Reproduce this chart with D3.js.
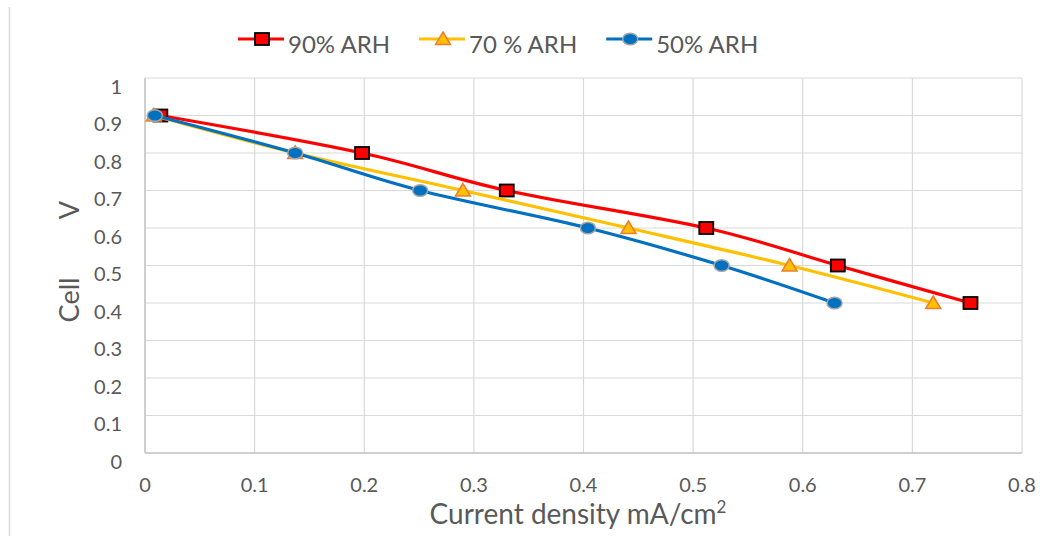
<!DOCTYPE html>
<html>
<head>
<meta charset="utf-8">
<script src="https://cdn.jsdelivr.net/npm/d3@7"></script>
<style>
  body { margin: 0; background: #fff; }
  svg { display: block; font-family: Lato, "Open Sans", sans-serif; }
</style>
</head>
<body>
<div id="chart"></div>
<script>
// series data (current density, cell voltage)
var seriesNames = ["90% ARH", "70 % ARH", "50% ARH"];
var voltage = [0.9, 0.8, 0.7, 0.6, 0.5, 0.4];
var current90 = [0.014, 0.198, 0.330, 0.512, 0.632, 0.753];
var current70 = [0.008, 0.137, 0.290, 0.441, 0.588, 0.719];
var current50 = [0.009, 0.137, 0.251, 0.404, 0.526, 0.629];
var xTicks = [0, 0.1, 0.2, 0.3, 0.4, 0.5, 0.6, 0.7, 0.8];
var yTicks = [0, 0.1, 0.2, 0.3, 0.4, 0.5, 0.6, 0.7, 0.8, 0.9, 1];

var width = 1060, height = 536;
var margin = {top: 78, right: 38, bottom: 83, left: 145};

var svg = d3.select("#chart").append("svg")
  .attr("width", width)
  .attr("height", height);

// thin frame line on the left side
svg.append("line")
  .attr("x1", 9.5).attr("x2", 9.5)
  .attr("y1", 7).attr("y2", height)
  .style("stroke", "#D9D9D9")
  .style("stroke-width", 1.5);

var x = d3.scaleLinear()
  .domain([0, 0.8])
  .range([margin.left, width - margin.right]);
var y = d3.scaleLinear()
  .domain([0, 1])
  .range([height - margin.bottom, margin.top]);

//Gridlines
svg.append("g").selectAll("line.hgrid")
  .data(yTicks.slice(1))
  .enter().append("line")
  .attr("class", "hgrid")
  .attr("x1", x(0)).attr("x2", x(0.8))
  .attr("y1", function(d){ return y(d); })
  .attr("y2", function(d){ return y(d); })
  .style("stroke", "#D9D9D9")
  .style("stroke-width", 1.2);
svg.append("g").selectAll("line.vgrid")
  .data(xTicks.slice(1))
  .enter().append("line")
  .attr("class", "vgrid")
  .attr("y1", y(0)).attr("y2", y(1))
  .attr("x1", function(d){ return x(d); })
  .attr("x2", function(d){ return x(d); })
  .style("stroke", "#D9D9D9")
  .style("stroke-width", 1.2);

//Axis lines
svg.append("line")
  .attr("x1", x(0)).attr("x2", x(0.8))
  .attr("y1", y(0)).attr("y2", y(0))
  .style("stroke", "#BFBFBF").style("stroke-width", 1.5);
svg.append("line")
  .attr("x1", x(0)).attr("x2", x(0))
  .attr("y1", y(0)).attr("y2", y(1))
  .style("stroke", "#BFBFBF").style("stroke-width", 1.5);

//Tick labels
svg.append("g").selectAll("text")
  .data(yTicks)
  .enter().append("text")
  .attr("x", 122)
  .attr("y", function(d){ return y(d) + 15.5; })
  .style("text-anchor", "end")
  .style("font-size", "20px")
  .style("fill", "#595959")
  .text(function(d){ return d; });
svg.append("g").selectAll("text")
  .data(xTicks)
  .enter().append("text")
  .attr("x", function(d){ return x(d); })
  .attr("y", 492)
  .style("text-anchor", "middle")
  .style("font-size", "20px")
  .style("fill", "#595959")
  .text(function(d){ return d; });

//Axis titles
var xt = svg.append("text")
  .attr("x", 578)
  .attr("y", 524)
  .style("text-anchor", "middle")
  .style("font-size", "28px")
  .style("fill", "#595959");
xt.append("tspan").text("Current density mA/cm");
xt.append("tspan").attr("dx", 0).attr("dy", -11).style("font-size", "17px").text("2");

svg.append("text")
  .attr("transform", "translate(79,300) rotate(-90)")
  .style("text-anchor", "middle")
  .style("font-size", "27px")
  .style("fill", "#595959")
  .text("Cell");
svg.append("text")
  .attr("transform", "translate(79,210) rotate(-90)")
  .style("text-anchor", "middle")
  .style("font-size", "27px")
  .style("fill", "#595959")
  .text("V");

//Series settings
var series = [
  {name: seriesNames[0], xs: current90, line: "#FF0000", fill: "#FF0000", stroke: "#000000", marker: "square"},
  {name: seriesNames[1], xs: current70, line: "#FFC000", fill: "#FFC000", stroke: "#ED7D31", marker: "triangle"},
  {name: seriesNames[2], xs: current50, line: "#0070C0", fill: "#0070C0", stroke: "#A5A5A5", marker: "circle"}
];

var drawMarker = function(g, type, fill, stroke){
  if(type == "square"){
    g.append("rect").attr("x", -7).attr("y", -6).attr("width", 14).attr("height", 12)
      .style("fill", fill).style("stroke", stroke).style("stroke-width", 1.8);
  } else if(type == "triangle"){
    g.append("path").attr("d", "M0,-7L7.5,5.5L-7.5,5.5Z")
      .style("fill", fill).style("stroke", stroke).style("stroke-width", 1.5);
  } else {
    g.append("ellipse").attr("rx", 7.5).attr("ry", 5.8)
      .style("fill", fill).style("stroke", stroke).style("stroke-width", 1.5);
  }
};

var line = d3.line()
  .x(function(d){ return x(d[0]); })
  .y(function(d){ return y(d[1]); })
  .curve(d3.curveCardinal.tension(0));

series.forEach(function(s){
  var pts = s.xs.map(function(v, i){ return [v, voltage[i]]; });
  var g = svg.append("g");
  g.append("path")
    .datum(pts)
    .attr("d", line)
    .style("fill", "none")
    .style("stroke", s.line)
    .style("stroke-width", 3.2);
  g.selectAll("g.pt")
    .data(pts)
    .enter().append("g")
    .attr("class", "pt")
    .attr("transform", function(d){ return "translate(" + x(d[0]) + "," + y(d[1]) + ")"; })
    .each(function(){ drawMarker(d3.select(this), s.marker, s.fill, s.stroke); });
});

//Legend
var lx = 238;
series.forEach(function(s){
  var lg = svg.append("g").attr("transform", "translate(" + lx + ",39)");
  lg.append("line").attr("x1", 0).attr("x2", 46)
    .style("stroke", s.line).style("stroke-width", 3.2);
  var m = lg.append("g").attr("transform", "translate(24,0)");
  drawMarker(m, s.marker, s.fill, s.stroke);
  var t = lg.append("text")
    .attr("x", 50).attr("y", 14)
    .style("font-size", "24px")
    .style("fill", "#595959")
    .text(s.name);
  lx += 50 + t.node().getComputedTextLength() + 29;
});
</script>
</body>
</html>
